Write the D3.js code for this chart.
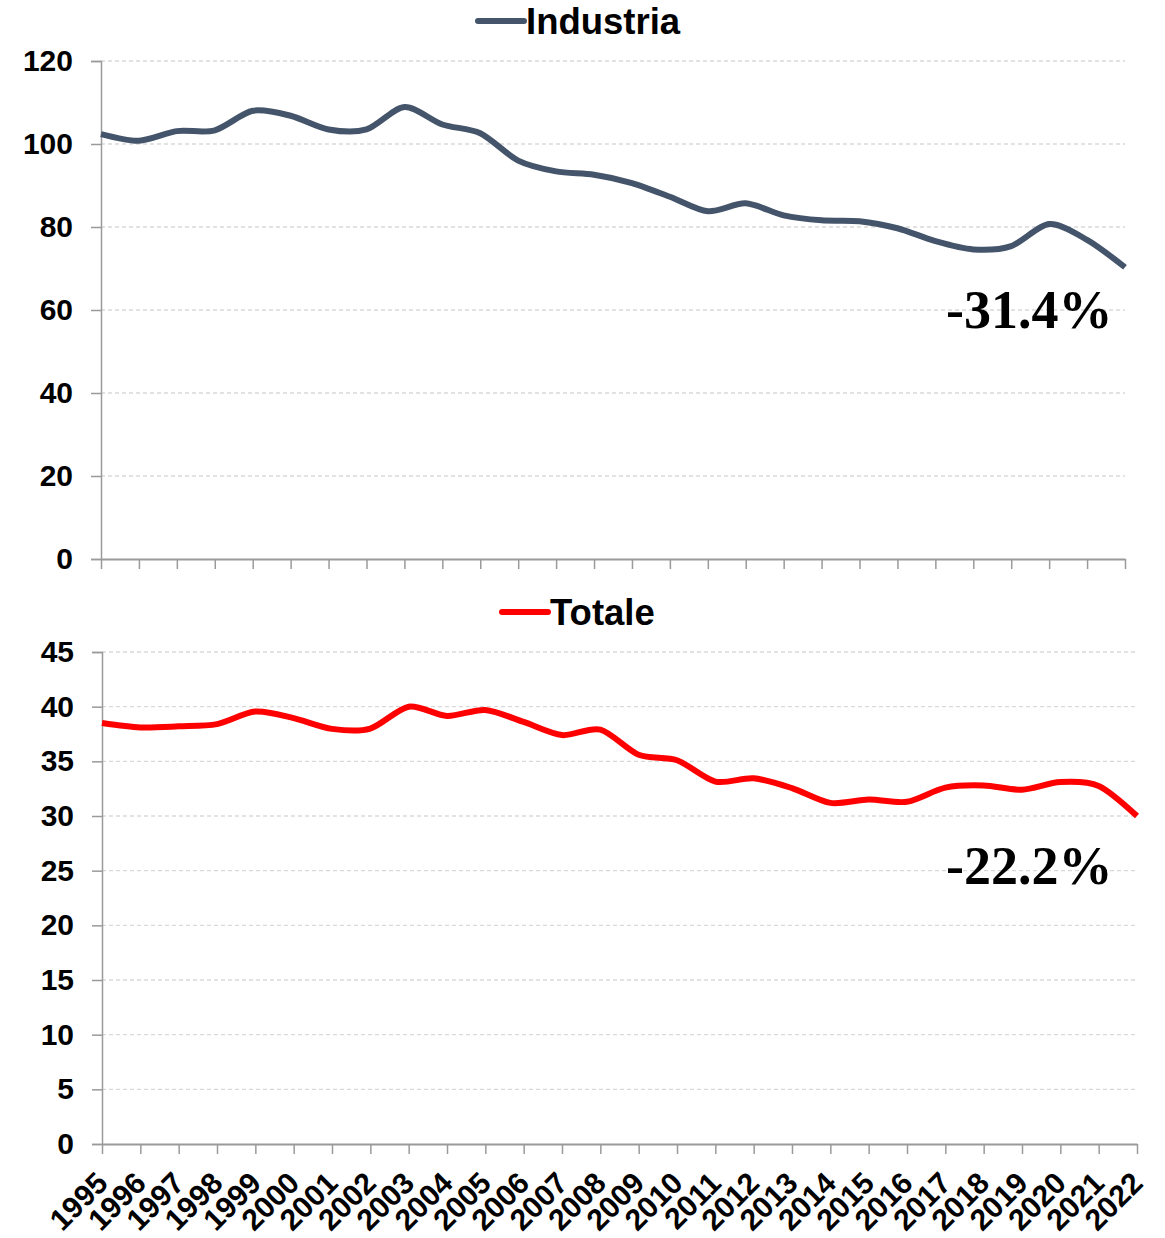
<!DOCTYPE html>
<html>
<head>
<meta charset="utf-8">
<script src="https://cdn.jsdelivr.net/npm/d3@7"></script>
<style>
  html, body { margin: 0; padding: 0; background: #fff; }
  svg { display: block; font-family: "Liberation Sans", Arial, sans-serif; }
</style>
</head>
<body>
<svg id="chart" width="1165" height="1238"></svg>
<script>
// years on the x axis
const years = d3.range(1995, 2023).map(String);

// Industria series (index, top panel)
const industria = [102.4, 100.8, 103.1, 103.3, 108.0, 106.8, 103.5, 103.5, 108.9, 104.7,
  102.6, 96.0, 93.4, 92.6, 90.6, 87.3, 83.8, 85.7, 82.8, 81.6,
  81.4, 79.7, 76.6, 74.6, 75.4, 80.7, 76.9, 70.3];

// Totale series (bottom panel)
const totale = [38.5, 38.1, 38.2, 38.4, 39.55, 38.95, 37.97, 38.0, 40.0, 39.15,
  39.7, 38.6, 37.4, 37.9, 35.6, 35.1, 33.15, 33.45, 32.55, 31.2,
  31.5, 31.3, 32.6, 32.8, 32.4, 33.1, 32.75, 30.0];

const topTicks = [0, 20, 40, 60, 80, 100, 120];
const bottomTicks = [0, 5, 10, 15, 20, 25, 30, 35, 40, 45];

const svg = d3.select('#chart');

function panel(opts) {
  const { x0, x1, y0, y1, domainMax, ticks, values, color, labels,
    legend, legendLine, note, noteXY } = opts;

  const x = d3.scalePoint().domain(years).range([x0, x1]);
  const y = d3.scaleLinear().domain([0, domainMax]).range([y1, y0]);
  const g = svg.append('g');

  // gridlines
  g.append('g').selectAll('line').data(ticks.filter(d => d > 0)).join('line')
    .attr('x1', x0).attr('x2', x1)
    .attr('y1', d => y(d)).attr('y2', d => y(d))
    .attr('stroke', '#d9d9d9').attr('stroke-width', 1.3)
    .attr('stroke-dasharray', '4,3');

  // y axis
  const yAxis = g.append('g').attr('transform', `translate(${x0},0)`)
    .call(d3.axisLeft(y).tickValues(ticks).tickSize(10).tickPadding(18).tickFormat(d3.format('d')));
  yAxis.select('.domain').attr('stroke', '#9a9a9a').attr('stroke-width', 1.5);
  yAxis.selectAll('.tick line').attr('stroke', '#9a9a9a').attr('stroke-width', 1.5);
  yAxis.selectAll('text').attr('font-size', 30).attr('font-weight', 'bold')
    .attr('fill', '#000').attr('font-family', '"Liberation Sans", Arial, sans-serif');

  // x axis
  const xAxis = g.append('g').attr('transform', `translate(0,${y1})`)
    .call(d3.axisBottom(x).tickSize(10).tickSizeOuter(0));
  xAxis.select('.domain').attr('stroke', '#9a9a9a').attr('stroke-width', 2);
  xAxis.selectAll('.tick line').attr('stroke', '#9a9a9a').attr('stroke-width', 1.5);
  if (labels) {
    xAxis.selectAll('text')
      .attr('font-size', 30).attr('font-weight', 'bold').attr('fill', '#000')
      .attr('font-family', '"Liberation Sans", Arial, sans-serif')
      .attr('text-anchor', 'end')
      .attr('dy', null).attr('y', 0)
      .attr('transform', 'translate(7,41) rotate(-45)');
  } else {
    xAxis.selectAll('text').remove();
  }

  // line
  const line = d3.line()
    .x((d, i) => x(years[i]))
    .y(d => y(d))
    .curve(d3.curveCardinal.tension(0.15));
  g.append('path').datum(values)
    .attr('d', line)
    .attr('fill', 'none')
    .attr('stroke', color)
    .attr('stroke-width', 6)
    .attr('stroke-linejoin', 'round');

  // legend
  g.append('line')
    .attr('x1', legendLine[0]).attr('x2', legendLine[1])
    .attr('y1', legendLine[2]).attr('y2', legendLine[2])
    .attr('stroke', color).attr('stroke-width', 6).attr('stroke-linecap', 'round');
  g.append('text')
    .attr('x', legendLine[1] + 2).attr('y', legendLine[2] + 13)
    .attr('font-size', 36.5).attr('font-weight', 'bold').attr('fill', '#000')
    .text(legend);

  // percentage note
  g.append('text')
    .attr('x', noteXY[0]).attr('y', noteXY[1])
    .attr('font-family', '"Liberation Serif", "Times New Roman", serif')
    .attr('font-size', 54).attr('font-weight', 'bold').attr('fill', '#000')
    .text(note);
}

panel({
  x0: 101, x1: 1125, y0: 61, y1: 559, domainMax: 120, ticks: topTicks,
  values: industria, color: '#44546a', labels: false,
  legend: 'Industria', legendLine: [478, 524, 21],
  note: '-31.4%', noteXY: [946, 328]
});

panel({
  x0: 102, x1: 1137, y0: 652, y1: 1144, domainMax: 45, ticks: bottomTicks,
  values: totale, color: '#ff0000', labels: true,
  legend: 'Totale', legendLine: [502, 548, 612],
  note: '-22.2%', noteXY: [946, 884]
});
</script>
</body>
</html>
